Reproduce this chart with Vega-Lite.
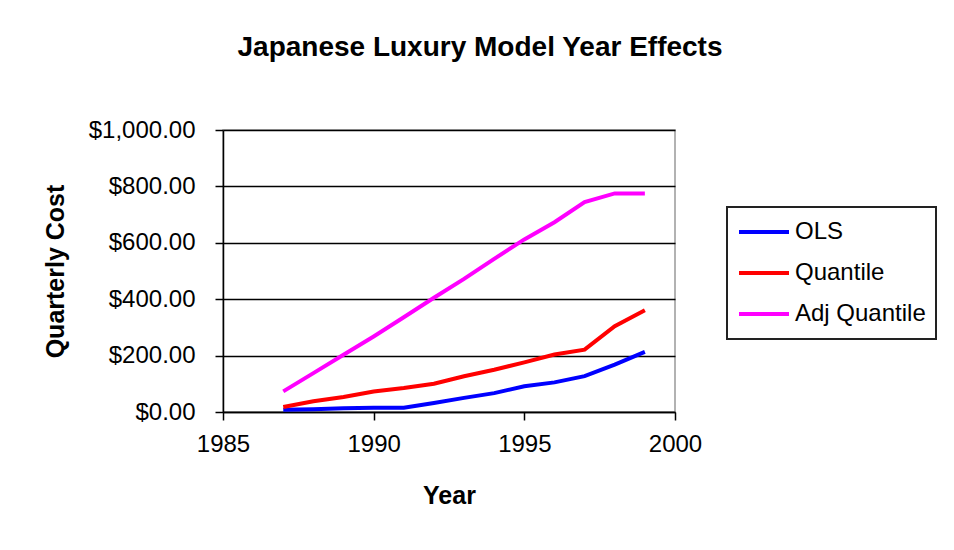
{
  "$schema": "https://vega.github.io/schema/vega-lite/v6.json",
  "autosize": "none",
  "width": 452,
  "height": 282,
  "padding": {"left": 223, "top": 130, "right": 279, "bottom": 138},
  "background": "white",
  "title": {"text": "Japanese Luxury Model Year Effects", "fontSize": 28, "font": "Liberation Sans", "fontWeight": "bold", "color": "black", "anchor": "middle", "frame": "group", "dx": 31, "offset": 56},
  "data": {"values": [
    {"year": 1987, "series": "OLS", "cost": 8},
    {"year": 1988, "series": "OLS", "cost": 10},
    {"year": 1989, "series": "OLS", "cost": 13},
    {"year": 1990, "series": "OLS", "cost": 15},
    {"year": 1991, "series": "OLS", "cost": 15},
    {"year": 1992, "series": "OLS", "cost": 32},
    {"year": 1993, "series": "OLS", "cost": 50},
    {"year": 1994, "series": "OLS", "cost": 67},
    {"year": 1995, "series": "OLS", "cost": 91},
    {"year": 1996, "series": "OLS", "cost": 105},
    {"year": 1997, "series": "OLS", "cost": 127},
    {"year": 1998, "series": "OLS", "cost": 168},
    {"year": 1999, "series": "OLS", "cost": 213},
    {"year": 1987, "series": "Quantile", "cost": 18},
    {"year": 1988, "series": "Quantile", "cost": 38},
    {"year": 1989, "series": "Quantile", "cost": 53},
    {"year": 1990, "series": "Quantile", "cost": 73},
    {"year": 1991, "series": "Quantile", "cost": 85},
    {"year": 1992, "series": "Quantile", "cost": 100},
    {"year": 1993, "series": "Quantile", "cost": 127},
    {"year": 1994, "series": "Quantile", "cost": 150},
    {"year": 1995, "series": "Quantile", "cost": 176},
    {"year": 1996, "series": "Quantile", "cost": 204},
    {"year": 1997, "series": "Quantile", "cost": 221},
    {"year": 1998, "series": "Quantile", "cost": 304},
    {"year": 1999, "series": "Quantile", "cost": 361},
    {"year": 1987, "series": "Adj Quantile", "cost": 73},
    {"year": 1988, "series": "Adj Quantile", "cost": 138},
    {"year": 1989, "series": "Adj Quantile", "cost": 203},
    {"year": 1990, "series": "Adj Quantile", "cost": 268},
    {"year": 1991, "series": "Adj Quantile", "cost": 336},
    {"year": 1992, "series": "Adj Quantile", "cost": 405},
    {"year": 1993, "series": "Adj Quantile", "cost": 472},
    {"year": 1994, "series": "Adj Quantile", "cost": 543},
    {"year": 1995, "series": "Adj Quantile", "cost": 612},
    {"year": 1996, "series": "Adj Quantile", "cost": 673},
    {"year": 1997, "series": "Adj Quantile", "cost": 744},
    {"year": 1998, "series": "Adj Quantile", "cost": 775},
    {"year": 1999, "series": "Adj Quantile", "cost": 775}
  ]},
  "mark": {"type": "line", "strokeWidth": 4},
  "encoding": {
    "x": {"field": "year", "type": "quantitative", "title": "Year",
      "scale": {"domain": [1985, 2000], "nice": false, "zero": false},
      "axis": {"values": [1985, 1990, 1995, 2000], "format": "d", "grid": false, "domainColor": "black", "domainWidth": 1.5, "tickColor": "black", "tickSize": 8, "tickWidth": 1.5, "labelPadding": 12, "labelFontSize": 24, "labelFont": "Liberation Sans", "labelColor": "black", "titleFontSize": 25, "titleFont": "Liberation Sans", "titleColor": "black", "titleFontWeight": "bold", "titlePadding": 27, "labelFlush": false}},
    "y": {"field": "cost", "type": "quantitative", "title": "Quarterly Cost",
      "scale": {"domain": [0, 1000], "nice": false},
      "axis": {"values": [0, 200, 400, 600, 800, 1000], "labelExpr": "'$' + format(datum.value, ',.2f')", "grid": true, "gridColor": "black", "gridWidth": 1.5, "domainColor": "black", "domainWidth": 1.5, "tickColor": "black", "tickSize": 8, "tickWidth": 1.5, "labelPadding": 20, "labelFontSize": 24, "labelFont": "Liberation Sans", "labelColor": "black", "titleFontSize": 25, "titleFont": "Liberation Sans", "titleColor": "black", "titleFontWeight": "bold", "titlePadding": 20}},
    "color": {"field": "series", "type": "nominal", "title": null,
      "scale": {"domain": ["OLS", "Quantile", "Adj Quantile"], "range": ["#0000FF", "#FF0000", "#FF00FF"]},
      "legend": {"orient": "none", "legendX": 504, "legendY": 77, "symbolType": "stroke", "symbolSize": 2500, "symbolStrokeWidth": 4, "clipHeight": 30, "rowPadding": 11, "labelFontSize": 24, "labelFont": "Liberation Sans", "labelColor": "black", "labelOffset": 4, "padding": 10, "strokeColor": "#222", "fillColor": "white", "labelLimit": 300}}
  },
  "config": {"view": {"stroke": "#999", "strokeWidth": 1.5}, "legend": {"strokeWidth": 2}}
}
